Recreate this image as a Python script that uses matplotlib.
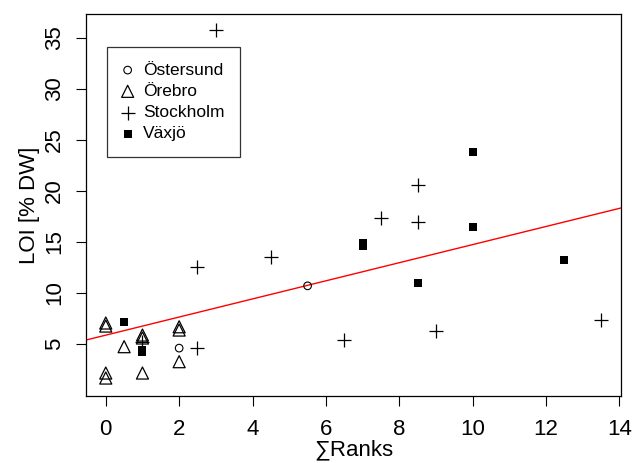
import numpy as np
import matplotlib.pyplot as plt

plt.rcParams['font.family'] = ['Liberation Sans', 'DejaVu Sans']

# data
ost_x = [2, 5.5]
ost_y = [4.6, 10.7]
ore_x = [0, 0, 0, 0, 0.5, 1, 1, 1, 2, 2, 2]
ore_y = [7.06, 6.76, 2.16, 1.67, 4.74, 5.88, 5.59, 2.16, 6.69, 6.37, 3.27]
sto_x = [1, 2.5, 2.5, 3, 4.5, 6.5, 7.5, 8.5, 8.5, 9, 13.5]
sto_y = [5.2, 4.6, 12.54, 35.75, 13.52, 5.39, 17.37, 20.57, 16.98, 6.3, 7.35]
vax_x = [0.5, 1, 1, 7, 7, 8.5, 10, 10, 12.5]
vax_y = [7.18, 4.4, 4.2, 14.9, 14.6, 10.94, 23.8, 16.43, 13.23]

# fitted line (intercept, slope)
fit_a = 5.87
fit_b = 0.887

fig = plt.figure(figsize=(6.32, 4.63), dpi=100)
ax = fig.add_axes([0.136, 0.1447, 0.8465, 0.825])

ax.axline((0, fit_a), slope=fit_b, color='red', lw=1, zorder=1)

ax.scatter(ost_x, ost_y, marker='o', s=30, facecolors='none', edgecolors='black', linewidths=0.8, label='Östersund', zorder=3)
ax.scatter(ore_x, ore_y, marker='^', s=75, facecolors='none', edgecolors='black', linewidths=0.9, label='Örebro', zorder=3)
ax.scatter(sto_x, sto_y, marker='+', s=90, color='black', linewidths=0.9, label='Stockholm', zorder=3)
ax.scatter(vax_x, vax_y, marker='s', s=36, color='black', linewidths=0, label='Växjö', zorder=3)

ax.set_xlim(-0.54, 14.04)
ax.set_ylim(-0.09, 37.32)
ax.set_xticks(np.arange(0, 15, 2))
ax.set_yticks(np.arange(5, 36, 5))
ax.tick_params(direction='out', length=7.2, width=0.8, labelsize=16)
ax.tick_params(axis='x', pad=9)
ax.tick_params(axis='y', pad=8)
for lab in ax.get_yticklabels():
    lab.set_rotation(90)
    lab.set_va('center')
for sp in ax.spines.values():
    sp.set_linewidth(0.9)

ax.set_xlabel('∑Ranks', fontsize=16, labelpad=0)
ax.set_ylabel('LOI [% DW]', fontsize=16, labelpad=3)

leg = ax.legend(loc='upper left', bbox_to_anchor=(0.039, 0.914), borderaxespad=0,
                fontsize=12.5, frameon=True, fancybox=False, edgecolor='black',
                handletextpad=0.6, labelspacing=0.35, borderpad=0.9, handlelength=0.6)
leg.get_frame().set_linewidth(0.9)

fig.savefig('out.png', dpi=100)
